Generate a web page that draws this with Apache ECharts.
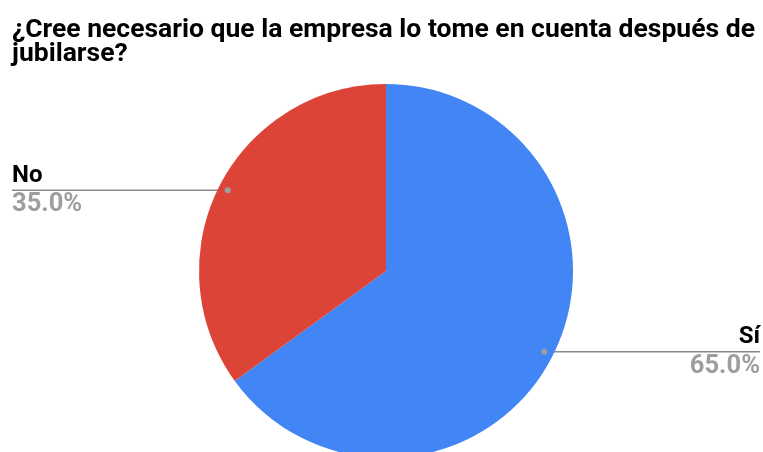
<!DOCTYPE html>
<html>
<head>
<meta charset="utf-8">
<script src="https://cdn.jsdelivr.net/npm/echarts@6/dist/echarts.min.js"></script>
<style>
  html, body { margin: 0; padding: 0; background: #fff; }
  #chart { width: 763px; height: 452px; }
</style>
</head>
<body>
<div id="chart"></div>
<script>
// Survey answers and their shares (percent)
const titleText = '¿Cree necesario que la empresa lo tome en cuenta después de\njubilarse?';
const categories = ['Sí', 'No'];
const shares = [65.0, 35.0];
const sliceColors = ['#4285F4', '#DB4437'];

const chart = echarts.init(document.getElementById('chart'));
const FONT = 'Roboto, "Noto Sans", sans-serif';
const LINE_COLOR = '#8a8a8a';
const DOT_RATIO = 0.95; // leader line starts slightly inside the slice

function itemLayout(idx) {
  return chart.getModel().getSeriesByIndex(0).getData().getItemLayout(idx);
}
function anchorPoint(idx) {
  const l = itemLayout(idx);
  const mid = (l.startAngle + l.endAngle) / 2;
  const rr = l.r * DOT_RATIO;
  return [l.cx + rr * Math.cos(mid), l.cy + rr * Math.sin(mid)];
}

chart.setOption({
  animation: false,
  backgroundColor: '#ffffff',
  title: {
    text: titleText,
    left: 12,
    top: 18,
    padding: 0,
    textStyle: {
      fontFamily: FONT,
      fontWeight: 'bold',
      fontSize: 26.5,
      lineHeight: 24,
      color: '#000'
    }
  },
  series: [{
    type: 'pie',
    center: [386, 271],
    radius: 187,
    startAngle: 90,
    clockwise: true,
    data: categories.map((c, i) => ({
      name: c,
      value: shares[i],
      itemStyle: { color: sliceColors[i] }
    })),
    itemStyle: { borderWidth: 0 },
    label: {
      show: true,
      position: 'outside',
      formatter: p => '{n|' + p.name + '}\n{p|' + p.value.toFixed(1) + '%}',
      rich: {
        n: { fontFamily: FONT, fontWeight: 'bold', fontSize: 24, lineHeight: 29, color: '#000' },
        p: { fontFamily: FONT, fontWeight: 'bold', fontSize: 25.5, lineHeight: 29, color: '#9e9e9e' }
      }
    },
    labelLine: {
      show: true,
      lineStyle: { color: LINE_COLOR, width: 1.5 }
    },
    labelLayout: function (params) {
      const idx = params.dataIndex;
      const p = anchorPoint(idx);
      const leftSide = p[0] < itemLayout(idx).cx;
      const edgeX = leftSide ? 12 : 760;
      return {
        x: edgeX,
        y: p[1],
        align: leftSide ? 'left' : 'right',
        verticalAlign: 'middle',
        labelLinePoints: [p, [(p[0] + edgeX) / 2, p[1]], [edgeX, p[1]]]
      };
    }
  }]
});

// Small dots marking where each leader line starts
chart.setOption({
  graphic: categories.map((c, i) => {
    const p = anchorPoint(i);
    return {
      type: 'circle',
      shape: { cx: p[0], cy: p[1], r: 3 },
      style: { fill: '#9e9e9e' },
      z: 100
    };
  })
});
</script>
</body>
</html>
